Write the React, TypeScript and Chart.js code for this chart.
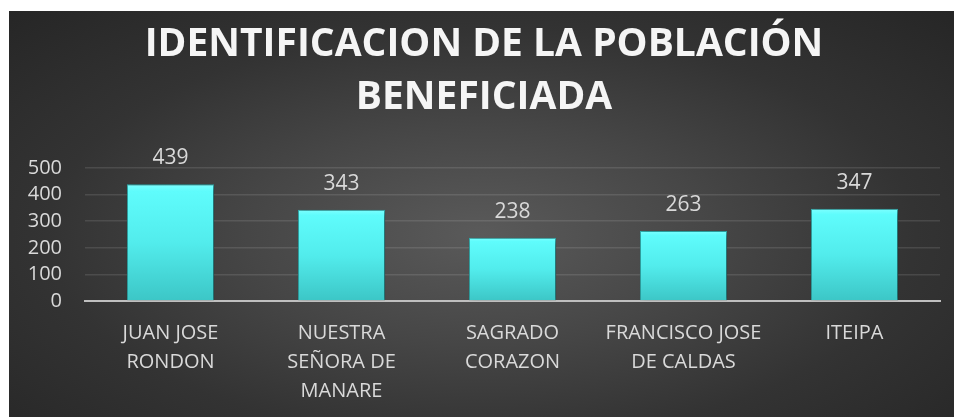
import React, { useEffect, useRef } from "react";
import { Chart, registerables } from "chart.js";

Chart.register(...registerables);

const titleLines = ["IDENTIFICACION DE LA POBLACIÓN", "BENEFICIADA"];
const categories: string[][] = [
  ["JUAN JOSE", "RONDON"],
  ["NUESTRA", "SEÑORA DE", "MANARE"],
  ["SAGRADO", "CORAZON"],
  ["FRANCISCO JOSE", "DE CALDAS"],
  ["ITEIPA"],
];
const values = [439, 343, 238, 263, 347];
const yMin = 0;
const yMax = 500;
const yStep = 100;

const FONT = "'Open Sans', 'DejaVu Sans', sans-serif";

const barShadow = {
  id: "barShadow",
  beforeDatasetDraw(chart: any) {
    const ctx = chart.ctx;
    ctx.save();
    ctx.shadowColor = "rgba(0,0,0,0.55)";
    ctx.shadowBlur = 6;
    ctx.shadowOffsetX = 2;
    ctx.shadowOffsetY = 2;
  },
  afterDatasetDraw(chart: any) {
    chart.ctx.restore();
  },
};

const valueLabels = {
  id: "valueLabels",
  afterDatasetsDraw(chart: any) {
    const ctx = chart.ctx;
    const meta = chart.getDatasetMeta(0);
    ctx.save();
    ctx.font = `21px ${FONT}`;
    ctx.fillStyle = "#d9d9d9";
    ctx.textAlign = "center";
    ctx.textBaseline = "middle";
    meta.data.forEach((bar: any, i: number) => {
      ctx.fillText(String(chart.data.datasets[0].data[i]), bar.x, bar.y - 26);
    });
    ctx.restore();
  },
};

export default function App() {
  const ref = useRef<HTMLCanvasElement>(null);
  useEffect(() => {
    if (!ref.current) return;
    const chart = new Chart(ref.current, {
      type: "bar",
      data: {
        labels: categories,
        datasets: [
          {
            data: values,
            backgroundColor: (c: any) => {
              const ch = c.chart;
              const y = ch.scales?.y;
              if (!y || c.raw === undefined) return "#55eeee";
              const top = y.getPixelForValue(c.raw);
              const bottom = y.getPixelForValue(0);
              if (!isFinite(top) || !isFinite(bottom) || top === bottom) return "#55eeee";
              const g = ch.ctx.createLinearGradient(0, top, 0, bottom);
              g.addColorStop(0, "#7dffff");
              g.addColorStop(0.06, "#5ffcfc");
              g.addColorStop(0.5, "#52ecec");
              g.addColorStop(1, "#3cc6c6");
              return g;
            },
            borderColor: "#2fb0b0",
            borderWidth: 1,
            categoryPercentage: 1,
            barPercentage: 0.51,
          },
        ],
      },
      options: {
        animation: false,
        responsive: true,
        maintainAspectRatio: false,
        layout: { padding: { left: 19, right: 14, top: 0, bottom: -7 } },
        plugins: {
          legend: { display: false },
          tooltip: { enabled: false },
          title: {
            display: true,
            text: titleLines,
            color: "#f5f5f5",
            font: { family: FONT, size: 39, weight: "bold", lineHeight: 1.36 },
            padding: { top: 7, bottom: 44 },
          },
        },
        scales: {
          x: {
            grid: { display: false, drawTicks: false },
            border: { display: true, color: "#bfbfbf", width: 2 },
            ticks: {
              color: "#d9d9d9",
              font: { family: FONT, size: 20, lineHeight: 1.45 },
              padding: 18,
              maxRotation: 0,
              autoSkip: false,
            },
            afterFit: (scale: any) => {
              scale.paddingLeft = 0;
              scale.paddingRight = 0;
            },
          },
          y: {
            min: yMin,
            max: yMax,
            grid: {
              color: "rgba(255,255,255,0.11)",
              lineWidth: 1.5,
              drawTicks: false,
            },
            border: { display: false },
            ticks: {
              stepSize: yStep,
              autoSkip: false,
              color: "#d9d9d9",
              font: { family: FONT, size: 20 },
              padding: 23,
            },
            afterFit: (scale: any) => {
              scale.width = 57;
            },
          },
        },
      },
      plugins: [barShadow, valueLabels],
    });
    return () => chart.destroy();
  }, []);

  return (
    <div
      style={{
        position: "absolute",
        left: 9,
        top: 11,
        width: 945,
        height: 406,
        background:
          "radial-gradient(ellipse farthest-corner at 50% 55%, #5a5a5a 0%, #464646 35%, #333333 65%, #262626 100%)",
      }}
    >
      <canvas ref={ref} />
    </div>
  );
}
